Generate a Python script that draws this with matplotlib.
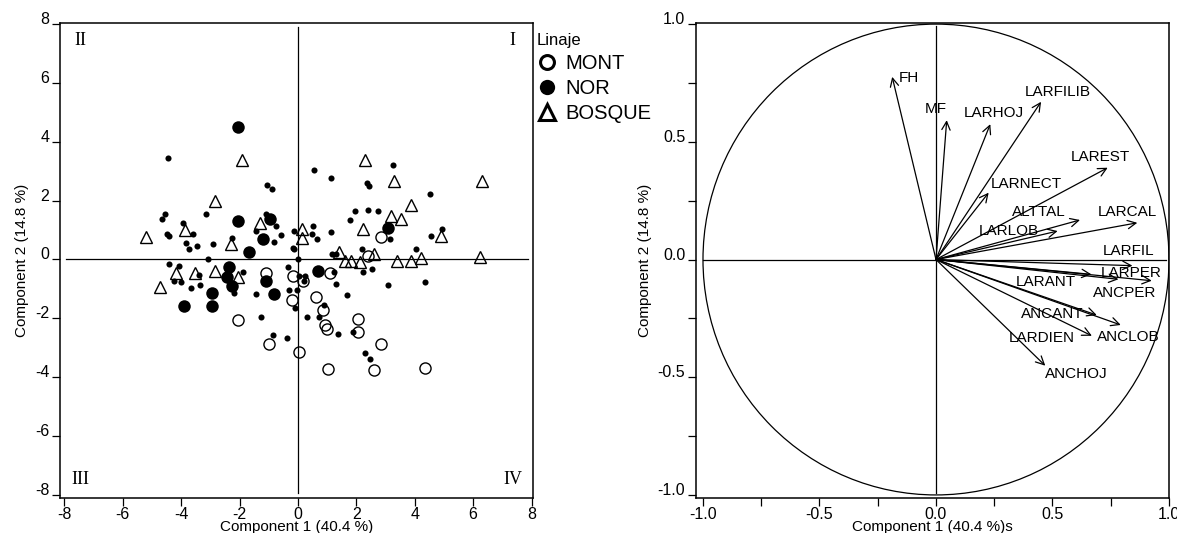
import matplotlib
matplotlib.use("Agg")
import matplotlib.pyplot as plt
from matplotlib.lines import Line2D
from matplotlib.patches import Circle

plt.rcParams['font.family'] = ['Liberation Sans', 'DejaVu Sans']
plt.rcParams['axes.unicode_minus'] = False

# ---------------- data: individual scores (left panel) ----------------
mont_x = [-1.08, -2.04, -0.99, 0.05, -0.18, -0.22, 0.16, 1.10, 0.63, 0.87,
          0.94, 1.00, 2.05, 2.05, 2.85, 1.02, 2.59, 4.34, 2.83, 2.39]
mont_y = [-0.45, -2.06, -2.86, -3.14, -0.56, -1.36, -0.72, -0.45, -1.26, -1.73,
          -2.24, -2.35, -2.01, -2.46, -2.86, -3.73, -3.76, -3.67, 0.77, 0.11]

nor_x = [-2.05, -2.04, -0.95, -1.21, -1.69, -2.36, -2.42, -2.27, -2.93, -3.91,
         -2.93, -1.10, -0.81, 0.68, 3.08]
nor_y = [4.49, 1.31, 1.38, 0.70, 0.25, -0.26, -0.60, -0.90, -1.13, -1.58,
         -1.58, -0.73, -1.17, -0.38, 1.06]

bosque_x = [-1.93, -2.85, -1.30, -3.88, -5.20, -2.30, 0.13, 0.13, -4.19, -3.54,
            -2.85, -4.71, -2.07, 2.28, 3.29, 3.88, 3.17, 3.52, 2.22, 4.91,
            6.29, 1.42, 1.60, 1.82, 2.12, 2.62, 3.40, 3.88, 4.20, 6.23]
bosque_y = [3.37, 1.99, 1.24, 0.99, 0.77, 0.51, 1.04, 0.74, -0.47, -0.45,
            -0.40, -0.93, -0.60, 3.37, 2.68, 1.84, 1.47, 1.36, 1.04, 0.79,
            2.68, 0.25, -0.05, -0.05, -0.07, 0.17, -0.05, -0.05, 0.06, 0.09]

other_x = [-4.46, -1.07, -0.90, -4.57, -4.65, -3.14, -1.10, -0.76, -3.94, -3.58,
           -4.48, -4.40, -3.82, -3.45, -3.74, -2.91, -2.27, -1.44, -0.81, -0.57,
           -0.13, -0.15, -3.07, 0.00,
           -4.42, -4.08, -4.25, -3.99, -3.39, -3.67, -3.37, -1.88, -2.19, -1.42,
           -1.26, -0.86, -0.38, -0.35, -0.30, -0.09,
           0.05, 0.24, 0.22, 1.31, 1.25, 2.24, 2.53, 3.08, 4.36, 1.68,
           -0.03, 0.90, 0.30, 0.71, 1.36, 1.90, 2.30, 2.47,
           3.25, 0.56, 1.13, 2.37, 2.43, 4.52, 1.96, 2.39, 2.74, 1.79,
           3.14, 4.95, 4.57, 0.50, 0.47, 0.64, 1.13, 1.16, 1.31, 2.19,
           4.05, -0.18]
other_y = [3.45, 2.52, 2.40, 1.53, 1.36, 1.53, 1.56, 1.13, 1.24, 0.87,
           0.85, 0.78, 0.56, 0.47, 0.34, 0.54, 0.73, 0.96, 0.59, 0.82,
           0.96, 0.37, 0.02, 0.00,
           -0.14, -0.23, -0.73, -0.77, -0.53, -0.96, -0.87, -0.42, -1.13, -1.16,
           -1.96, -2.57, -2.68, -0.26, -1.05, -1.64,
           -0.56, -0.55, -0.73, -0.82, -0.42, -0.43, -0.32, -0.87, -0.77, -1.22,
           -1.02, -1.53, -1.94, -1.94, -2.54, -2.48, -3.16, -3.39,
           3.22, 3.03, 2.75, 2.60, 2.51, 2.24, 1.66, 1.67, 1.64, 1.33,
           0.68, 1.02, 0.79, 1.15, 0.87, 0.71, 0.94, 0.17, 0.19, 0.34,
           0.34, 0.40]

group_labels = ['MONT', 'NOR', 'BOSQUE']
legend_title = 'Linaje'
quadrant_names = ['I', 'II', 'III', 'IV']

# ---------------- data: variable loadings (right panel) ----------------
var_names = ['FH', 'MF', 'LARHOJ', 'LARFILIB', 'LAREST', 'LARNECT', 'ALTTAL',
             'LARCAL', 'LARLOB', 'LARFIL', 'LARPER', 'ANCPER', 'LARANT',
             'ANCANT', 'ANCLOB', 'LARDIEN', 'ANCHOJ']
var_x = [-0.188, 0.046, 0.233, 0.451, 0.737, 0.226, 0.618, 0.864, 0.522,
         0.843, 0.783, 0.926, 0.667, 0.690, 0.793, 0.669, 0.469]
var_y = [0.776, 0.592, 0.575, 0.670, 0.390, 0.284, 0.168, 0.156, 0.121,
         -0.026, -0.084, -0.090, -0.063, -0.236, -0.278, -0.324, -0.451]

xlabel_left = 'Component 1 (40.4 %)'
xlabel_right = 'Component 1 (40.4 %)s'
ylabel = 'Component 2 (14.8 %)'

left_ticks = [-8, -6, -4, -2, 0, 2, 4, 6, 8]
right_ticks = [-1.0, -0.75, -0.5, -0.25, 0.0, 0.25, 0.5, 0.75, 1.0]
right_ticklabels = ['-1.0', '', '-0.5', '', '0.0', '', '0.5', '', '1.0']

# ---------------- layout (label offsets in pixels, +y up) ----------------
label_offsets = [(17, -1), (-11, 11), (4, 11), (17, 10), (-7, 11), (38, 9),
                 (-41, 8), (-10, 11), (-49, 0), (-4, 15), (13, 6), (-27, -12),
                 (-46, -8), (-44, 1), (8, -12), (-50, -2), (31, -8)]
quad_pos = [(7.36, 7.42), (-7.44, 7.42), (-7.44, -7.48), (7.36, -7.48)]

W, H = 1177, 533
fig = plt.figure(figsize=(W / 100, H / 100), dpi=100)
ax1 = fig.add_axes([60 / W, 35 / H, 473 / W, 475.3 / H])
ax2 = fig.add_axes([696 / W, 35 / H, 473 / W, 475.3 / H])

tick_kw = dict(direction='out', length=5.8, width=0.9, labelsize=11.5, colors='black')

def style_axes(ax):
    for sp in ax.spines.values():
        sp.set_linewidth(1.1)
        sp.set_color('black')
    ax.tick_params(axis='both', **tick_kw)
    ax.tick_params(axis='y', pad=2)
    ax.tick_params(axis='x', pad=0.5)

# ---------------- left panel ----------------
xl1 = (-8.15, 8.05)
yl1 = (-8.10, 8.04)
ax1.set_xlim(*xl1)
ax1.set_ylim(*yl1)
style_axes(ax1)
ax1.set_xticks(left_ticks, [str(t) for t in left_ticks])
ax1.set_yticks(left_ticks, [str(t) for t in left_ticks])
for lbl in ax1.get_yticklabels():
    lbl.set_verticalalignment('baseline')

# quadrant reference lines
ax1.axhline(0, xmin=(-7.95 - xl1[0]) / (xl1[1] - xl1[0]),
            xmax=(7.88 - xl1[0]) / (xl1[1] - xl1[0]), color='black', lw=0.9)
ax1.axvline(0, ymin=(-7.93 - yl1[0]) / (yl1[1] - yl1[0]),
            ymax=(7.9 - yl1[0]) / (yl1[1] - yl1[0]), color='black', lw=0.9)

ax1.plot(other_x, other_y, ls='none', marker='o', ms=4.4, color='black', mew=0)
ax1.plot(nor_x, nor_y, ls='none', marker='o', ms=9.0, color='black', mew=0)
ax1.plot(mont_x, mont_y, ls='none', marker='o', ms=8.0, mfc='none', mec='black', mew=1.0)
ax1.plot(bosque_x, bosque_y, ls='none', marker='^', ms=8.2, mfc='none', mec='black', mew=1.0)

for name, (qx, qy) in zip(quadrant_names, quad_pos):
    ax1.text(qx, qy, name, ha='center', va='center', fontsize=13,
             family=['Liberation Serif', 'DejaVu Serif'])

ax1.set_xlabel(xlabel_left, fontsize=11, labelpad=-1)
ax1.set_ylabel(ylabel, fontsize=11, labelpad=4)

handles = [
    Line2D([], [], ls='none', marker='o', ms=10, mfc='none', mec='black', mew=2.2, label=group_labels[0]),
    Line2D([], [], ls='none', marker='o', ms=11, color='black', mew=0, label=group_labels[1]),
    Line2D([], [], ls='none', marker='^', ms=11, mfc='none', mec='black', mew=2.2, label=group_labels[2]),
]
fig.legend(handles=handles, title=legend_title, loc='upper left',
           bbox_to_anchor=(537 / W, 1 - 33 / H), frameon=False,
           prop={'size': 14.5}, title_fontsize=12, alignment='left',
           handlelength=1.0, handletextpad=0.4, labelspacing=0.3,
           borderpad=0, borderaxespad=0)

# ---------------- right panel ----------------
xl2 = (-1.03, 1.0)
yl2 = (-1.013, 1.006)
ax2.set_xlim(*xl2)
ax2.set_ylim(*yl2)
style_axes(ax2)
ax2.set_xticks(right_ticks, right_ticklabels)
ax2.set_yticks(right_ticks, right_ticklabels)
for lbl in ax2.get_yticklabels():
    lbl.set_verticalalignment('baseline')

ax2.axhline(0, xmin=(-1.0 - xl2[0]) / (xl2[1] - xl2[0]),
            xmax=(0.985 - xl2[0]) / (xl2[1] - xl2[0]), color='black', lw=0.9)
ax2.axvline(0, ymin=(-0.99 - yl2[0]) / (yl2[1] - yl2[0]),
            ymax=(0.99 - yl2[0]) / (yl2[1] - yl2[0]), color='black', lw=0.9)
ax2.add_patch(Circle((0, 0), 1.0, fill=False, lw=0.9, ec='black'))

for name, x, y, (dx, dy) in zip(var_names, var_x, var_y, label_offsets):
    ax2.annotate('', xy=(x, y), xytext=(0, 0),
                 arrowprops=dict(arrowstyle='->,head_length=0.6,head_width=0.3',
                                 lw=0.9, color='black', shrinkA=0, shrinkB=0,
                                 mutation_scale=10))
    ax2.annotate(name, xy=(x, y), xytext=(dx * 0.72, dy * 0.72),
                 textcoords='offset points', ha='center', va='center', fontsize=11)

ax2.set_xlabel(xlabel_right, fontsize=11, labelpad=-1)
ax2.set_ylabel(ylabel, fontsize=11, labelpad=4)

fig.savefig('out.png', dpi=100)
